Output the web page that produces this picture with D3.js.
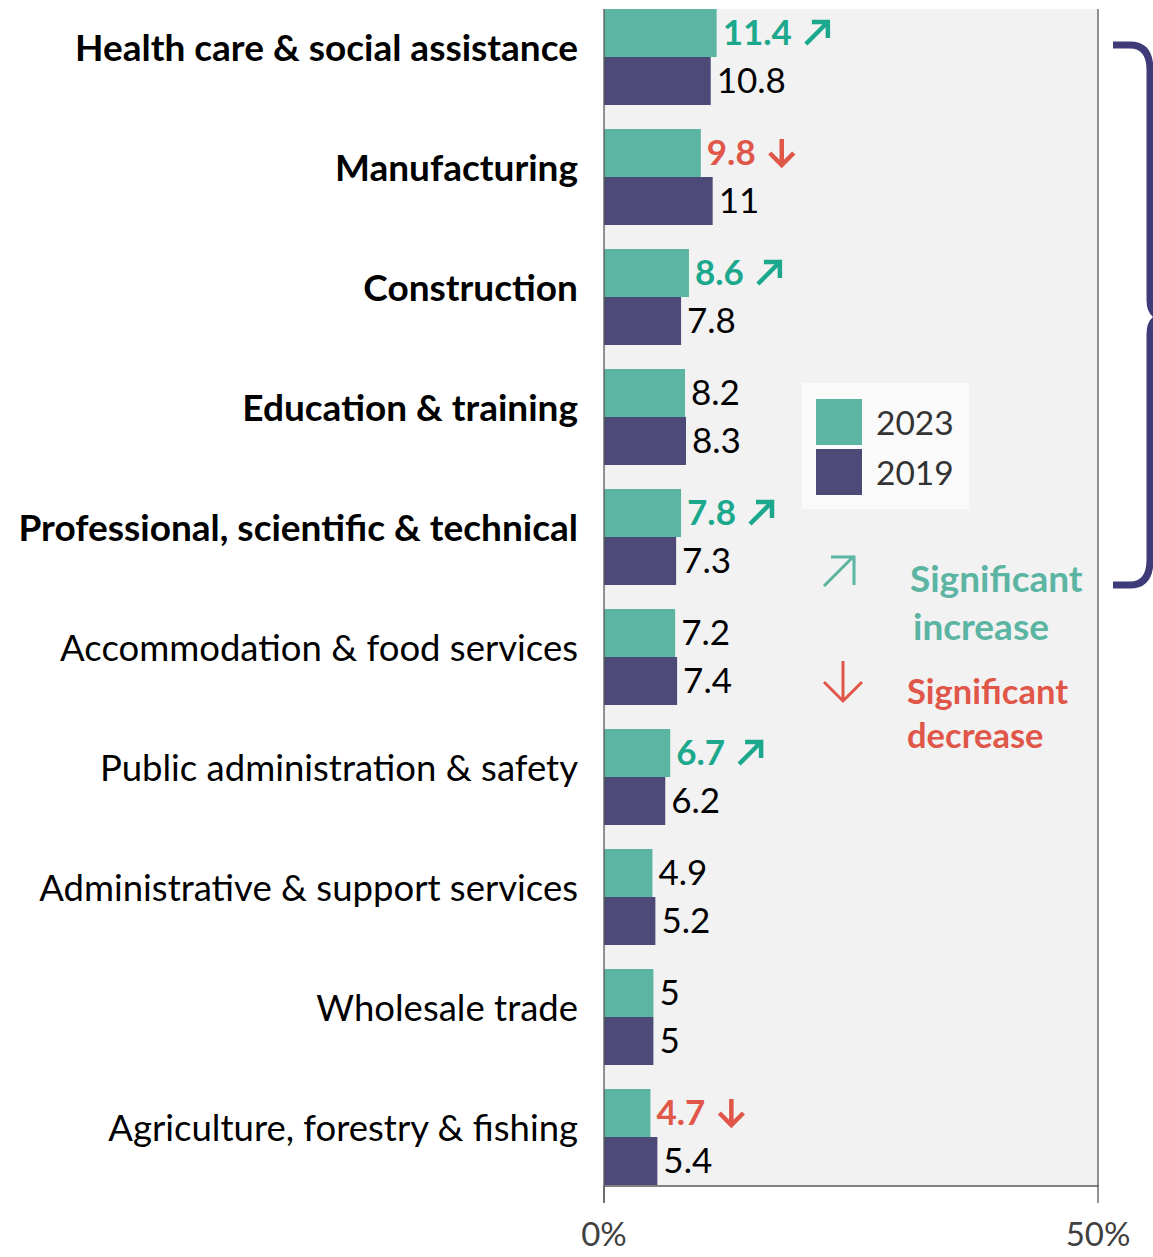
<!DOCTYPE html>
<html>
<head>
<meta charset="utf-8">
<script src="https://cdn.jsdelivr.net/npm/d3@7"></script>
<style>
  body { margin: 0; background: #fff; }
  svg { display: block; }
  text { font-family: Lato, "Open Sans", sans-serif; }
</style>
</head>
<body>
<div id="chart"></div>
<script>
// data
var categories = ["Health care & social assistance", "Manufacturing", "Construction",
  "Education & training", "Professional, scientific & technical",
  "Accommodation & food services", "Public administration & safety",
  "Administrative & support services", "Wholesale trade", "Agriculture, forestry & fishing"];
var values2023 = [11.4, 9.8, 8.6, 8.2, 7.8, 7.2, 6.7, 4.9, 5, 4.7];
var values2019 = [10.8, 11, 7.8, 8.3, 7.3, 7.4, 6.2, 5.2, 5, 5.4];
var change = ["up", "down", "up", "", "up", "", "up", "", "", "down"]; // significance of 2023 vs 2019
var topCount = 5; // first five are in bold and bracketed
var years = ["2023", "2019"];
var xTicks = [0, 50];

var w = 1153, h = 1257;
var plot = { left: 604, right: 1098, top: 9, bottom: 1185 };

var teal = "#5bb5a2", purple = "#4d4a78";
var upColor = "#1ba88c", downColor = "#e0574a";

var svg = d3.select("#chart").append("svg")
  .attr("width", w).attr("height", h);

var x = d3.scaleLinear().domain([0, 50]).range([plot.left, plot.right]);
var y = d3.scaleBand().domain(categories).range([plot.top, plot.bottom])
  .paddingInner(0.2).paddingOuter(0);
var ySub = d3.scaleBand().domain(years).range([0, y.bandwidth()]);

// plot background
svg.append("rect")
  .attr("x", plot.left).attr("y", plot.top)
  .attr("width", plot.right - plot.left).attr("height", plot.bottom + 1 - plot.top)
  .attr("fill", "#f2f2f2");

// right + bottom border
svg.append("path")
  .attr("d", "M" + plot.right + "," + plot.top + "V" + (plot.bottom + 1) + "H" + plot.left)
  .attr("fill", "none").attr("stroke", "#595959").attr("stroke-width", 1.3);

var rows = categories.map(function(c, i) {
  return { cat: c, v23: values2023[i], v19: values2019[i], sig: change[i], bold: i < topCount };
});

var g = svg.selectAll("g.row").data(rows).enter().append("g")
  .attr("class", "row")
  .attr("transform", function(d) { return "translate(0," + y(d.cat) + ")"; });

g.append("rect")
  .attr("x", x(0)).attr("y", ySub("2023"))
  .attr("width", function(d) { return x(d.v23) - x(0); })
  .attr("height", ySub.bandwidth())
  .attr("fill", teal);

g.append("rect")
  .attr("x", x(0)).attr("y", ySub("2019"))
  .attr("width", function(d) { return x(d.v19) - x(0); })
  .attr("height", ySub.bandwidth())
  .attr("fill", purple);

// category labels
g.append("text")
  .attr("x", plot.left - 26)
  .attr("y", y.bandwidth() / 2 + 4)
  .attr("text-anchor", "end")
  .attr("font-size", function(d) { return d.bold ? 37 : 36.5; })
  .attr("font-weight", function(d) { return d.bold ? 700 : 400; })
  .attr("fill", "#000")
  .text(function(d) { return d.cat; });

// 2023 value labels
var lab23 = g.append("text")
  .attr("x", function(d) { return x(d.v23) + 6; })
  .attr("y", ySub("2023") + ySub.bandwidth() / 2 + 12)
  .attr("font-size", 35)
  .attr("font-weight", function(d) { return d.sig ? 700 : 400; })
  .attr("fill", function(d) { return d.sig == "up" ? upColor : d.sig == "down" ? downColor : "#000"; })
  .text(function(d) { return d.v23; });

// arrows after significant values
lab23.each(function(d) {
  if (!d.sig) return;
  var tw = this.getComputedTextLength();
  var ax = x(d.v23) + 6 + tw + 14;
  var cy = ySub("2023") + ySub.bandwidth() / 2;
  var parent = d3.select(this.parentNode);
  var col = d.sig == "up" ? upColor : downColor;
  if (d.sig == "up") {
    parent.append("path")
      .attr("d", "M" + ax + "," + (cy + 11) + "L" + (ax + 22) + "," + (cy - 11) +
        "M" + (ax + 6) + "," + (cy - 11) + "H" + (ax + 22) + "V" + (cy + 5))
      .attr("fill", "none").attr("stroke", col).attr("stroke-width", 4.5);
  } else {
    parent.append("path")
      .attr("d", "M" + (ax + 12) + "," + (cy - 14) + "V" + (cy + 12) +
        "M" + ax + "," + cy + "L" + (ax + 12) + "," + (cy + 12) + "L" + (ax + 24) + "," + cy)
      .attr("fill", "none").attr("stroke", col).attr("stroke-width", 4.5);
  }
});

// 2019 value labels
g.append("text")
  .attr("x", function(d) { return x(d.v19) + 6; })
  .attr("y", ySub("2019") + ySub.bandwidth() / 2 + 12)
  .attr("font-size", 35)
  .attr("fill", "#000")
  .text(function(d) { return d.v19; });

// left axis line
svg.append("line")
  .attr("x1", plot.left).attr("x2", plot.left)
  .attr("y1", plot.top).attr("y2", plot.bottom + 18)
  .attr("stroke", "#595959").attr("stroke-width", 1.3);

// x ticks
var xt = svg.selectAll("g.xtick").data(xTicks).enter().append("g").attr("class", "xtick");
xt.append("line")
  .attr("x1", function(d) { return x(d); }).attr("x2", function(d) { return x(d); })
  .attr("y1", plot.bottom).attr("y2", plot.bottom + 18)
  .attr("stroke", "#595959").attr("stroke-width", 1.3);
xt.append("text")
  .attr("x", function(d) { return x(d); })
  .attr("y", 1246)
  .attr("text-anchor", "middle")
  .attr("font-size", 33)
  .attr("fill", "#404040")
  .text(function(d) { return d + "%"; });

// legend
var leg = svg.append("g");
leg.append("rect").attr("x", 802).attr("y", 383).attr("width", 167).attr("height", 126)
  .attr("fill", "#fafafa");
var legColors = [teal, purple];
years.forEach(function(yr, i) {
  leg.append("rect").attr("x", 816).attr("y", 399 + i * 50).attr("width", 46).attr("height", 46)
    .attr("fill", legColors[i]);
  leg.append("text").attr("x", 876).attr("y", 435 + i * 50)
    .attr("font-size", 33.5).attr("fill", "#333").text(yr);
});

// significance key
svg.append("path")
  .attr("d", "M824,586L854,556M831,557H854V585")
  .attr("fill", "none").attr("stroke", teal).attr("stroke-width", 3);
svg.append("text").attr("font-size", 37).attr("font-weight", 700)
  .attr("fill", teal)
  .selectAll("tspan").data(["Significant", "increase"]).enter().append("tspan")
  .attr("x", function(d, i) { return i ? 913 : 910; })
  .attr("y", function(d, i) { return 592 + i * 48; })
  .text(function(d) { return d; });

svg.append("path")
  .attr("d", "M843,661V701M824,682L843,701L862,682")
  .attr("fill", "none").attr("stroke", downColor).attr("stroke-width", 3);
svg.append("text").attr("font-size", 34.5).attr("font-weight", 700)
  .attr("fill", downColor)
  .selectAll("tspan").data(["Significant", "decrease"]).enter().append("tspan")
  .attr("x", 907)
  .attr("y", function(d, i) { return 704 + i * 44; })
  .text(function(d) { return d; });

// bracket around the top five
svg.append("path")
  .attr("d", "M1113,45H1130Q1150,45 1150,70V300Q1150,315 1162,317Q1150,319 1150,334V560Q1150,585 1130,585H1113")
  .attr("fill", "none").attr("stroke", "#3f3a78").attr("stroke-width", 7);
</script>
</body>
</html>
